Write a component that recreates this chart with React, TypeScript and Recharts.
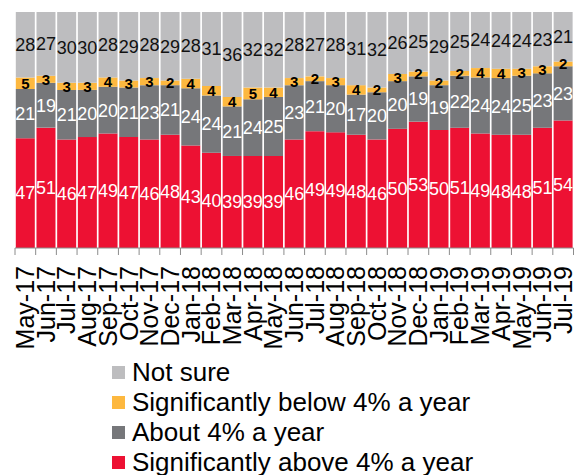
import React from 'react';
import { BarChart, Bar, XAxis, YAxis, Legend, LabelList } from 'recharts';

const months = [
  'May-17', 'Jun-17', 'Jul-17', 'Aug-17', 'Sep-17', 'Oct-17', 'Nov-17', 'Dec-17',
  'Jan-18', 'Feb-18', 'Mar-18', 'Apr-18', 'May-18', 'Jun-18', 'Jul-18', 'Aug-18',
  'Sep-18', 'Oct-18', 'Nov-18', 'Dec-18', 'Jan-19', 'Feb-19', 'Mar-19', 'Apr-19',
  'May-19', 'Jun-19', 'Jul-19',
];

const aboveValues = [47, 51, 46, 47, 49, 47, 46, 48, 43, 40, 39, 39, 39, 46, 49, 49, 48, 46, 50, 53, 50, 51, 49, 48, 48, 51, 54];
const aboutValues = [21, 19, 21, 20, 20, 21, 23, 21, 24, 24, 21, 24, 25, 23, 21, 20, 17, 20, 20, 19, 19, 22, 24, 24, 25, 23, 23];
const belowValues = [5, 3, 3, 3, 4, 3, 3, 2, 4, 4, 4, 5, 4, 3, 2, 3, 4, 2, 3, 2, 2, 2, 4, 4, 3, 3, 2];
const notSureValues = [28, 27, 30, 30, 28, 29, 28, 29, 28, 31, 36, 32, 32, 28, 27, 28, 31, 32, 26, 25, 29, 25, 24, 24, 24, 23, 21];

const data = months.map((month, i) => ({
  month,
  above: aboveValues[i],
  about: aboutValues[i],
  below: belowValues[i],
  notSure: notSureValues[i],
}));

const COLORS = {
  above: '#ED1133',
  about: '#76777A',
  below: '#FDB83F',
  notSure: '#BDBDBF',
};

const legendItems = [
  { label: 'Not sure', color: COLORS.notSure },
  { label: 'Significantly below 4% a year', color: COLORS.below },
  { label: 'About 4% a year', color: COLORS.about },
  { label: 'Significantly above 4% a year', color: COLORS.above },
];

const FONT = '"Liberation Sans", Arial, sans-serif';
const WIDTH = 578;
const HEIGHT = 475;
const MARGIN = { top: 12, right: 4.5, left: 15, bottom: 2 };
const BAND = (WIDTH - MARGIN.left - MARGIN.right) / months.length;
const TICK = 7;
const AXIS_COLOR = '#8c8c8c';

// month tick: tick marks sit on band edges, label rotated
const MonthTick = (props: any) => {
  const { x, y, payload, index } = props;
  const edge = x - BAND / 2;
  return (
    <g>
      <line x1={edge} x2={edge} y1={y - TICK} y2={y} stroke={AXIS_COLOR} strokeWidth={1} />
      {index === months.length - 1 && (
        <line x1={x + BAND / 2} x2={x + BAND / 2} y1={y - TICK} y2={y} stroke={AXIS_COLOR} strokeWidth={1} />
      )}
      <text
        transform={`translate(${x},${y + 11}) rotate(-90)`}
        textAnchor="end"
        dy="0.35em"
        fontSize={25}
        fontFamily={FONT}
        fill="#000"
      >
        {payload.value}
      </text>
    </g>
  );
};

const LegendContent = () => (
  <div style={{ height: 116, paddingLeft: 97, fontFamily: FONT, fontSize: 26, color: '#000' }}>
    {legendItems.map((item) => (
      <div key={item.label} style={{ height: 30, display: 'flex', alignItems: 'center', whiteSpace: 'nowrap' }}>
        <span style={{ width: 13, height: 13, background: item.color, marginRight: 7, display: 'inline-block' }} />
        <span style={{ lineHeight: '30px' }}>{item.label}</span>
      </div>
    ))}
  </div>
);

export default function App() {
  const labelBase = { fontFamily: FONT, fontSize: 18 };
  return (
    <div style={{ position: 'absolute', left: 0, top: 0, width: WIDTH, height: HEIGHT, background: '#fff' }}>
      <BarChart
        width={WIDTH}
        height={HEIGHT}
        data={data}
        margin={MARGIN}
        stackOffset="expand"
        barCategoryGap={0.8}
      >
        <XAxis
          dataKey="month"
          interval={0}
          height={109}
          tickLine={false}
          tickSize={TICK}
          tickMargin={0}
          axisLine={{ stroke: AXIS_COLOR }}
          tick={<MonthTick />}
        />
        <YAxis hide domain={[0, 1]} />
        <Legend
          verticalAlign="bottom"
          align="left"
          layout="horizontal"
          content={<LegendContent />}
        />
        <Bar dataKey="above" stackId="a" fill={COLORS.above} isAnimationActive={false}>
          <LabelList dataKey="above" position="center" fill="#fff" {...labelBase} />
        </Bar>
        <Bar dataKey="about" stackId="a" fill={COLORS.about} isAnimationActive={false}>
          <LabelList dataKey="about" position="center" fill="#fff" {...labelBase} />
        </Bar>
        <Bar dataKey="below" stackId="a" fill={COLORS.below} isAnimationActive={false}>
          <LabelList dataKey="below" position="center" fill="#000" fontWeight="bold" fontFamily={FONT} fontSize={15} />
        </Bar>
        <Bar dataKey="notSure" stackId="a" fill={COLORS.notSure} isAnimationActive={false}>
          <LabelList dataKey="notSure" position="center" fill="#111" {...labelBase} />
        </Bar>
      </BarChart>
    </div>
  );
}
